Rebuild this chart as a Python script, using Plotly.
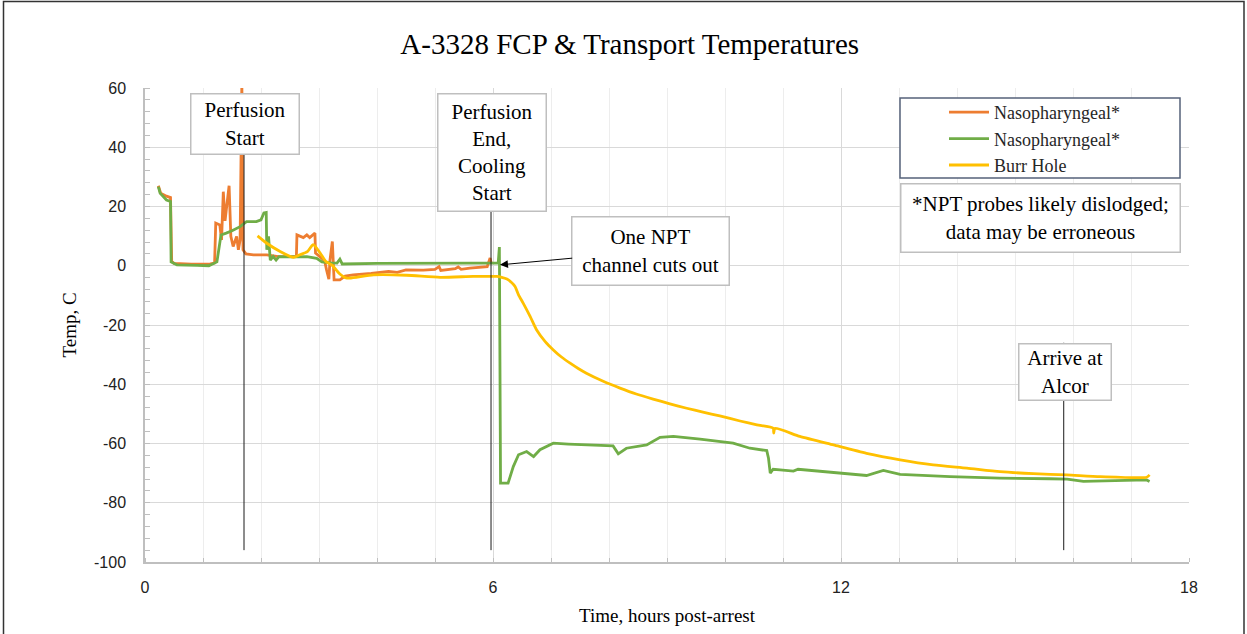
import plotly.graph_objects as go

# ---- data (hours post-arrest, temperature C) ----
npt1_t = [0.23, 0.27, 0.37, 0.44, 0.46, 0.50, 0.8, 1.1, 1.20, 1.22, 1.29, 1.32, 1.35, 1.38, 1.42, 1.45,
          1.48, 1.52, 1.58, 1.61, 1.64, 1.67, 1.69, 1.74, 1.87, 2.1, 2.3, 2.61, 2.62, 2.73, 2.79, 2.84,
          2.93, 2.94, 3.05, 3.10, 3.13, 3.17, 3.19, 3.23, 3.26, 3.36, 3.45, 3.59, 3.9, 4.2, 4.35, 4.5,
          4.8, 5.0, 5.07, 5.1, 5.35, 5.4, 5.45, 5.6, 5.9, 5.95, 5.97]
npt1_v = [27, 24.5, 23.5, 23, 1.5, 0.8, 0.5, 0.5, 1.0, 14.4, 13.8, 8.7, 25, 15.2, 22, 27,
          9.9, 6.5, 9.9, 5.4, 8.7, 62, 5.4, 4.0, 3.7, 3.7, 3.1, 3.1, 10.4, 9.5, 10.4, 9.5,
          11, 4.3, 2.5, 1.4, -1.4, -4.5, 2, 8.2, -4.8, -4.8, -3.5, -3.1, -2.6, -1.9, -2.2, -1.4,
          -1.5, -1.2, -0.3, -1.6, -1.0, -0.4, -1.2, -0.8, -0.3, 2.6, 0.8]

npt2_t = [0.23, 0.26, 0.37, 0.44, 0.45, 0.55, 0.9, 1.1, 1.24, 1.31, 1.40, 1.5, 1.64, 1.75, 1.92, 2.0,
          2.05, 2.09, 2.10, 2.13, 2.16, 2.21, 2.26, 2.31, 2.5, 2.79, 2.96, 3.05, 3.2, 3.31, 3.36, 3.40,
          4.0, 4.55, 5.2, 5.70, 6.09, 6.11, 6.13, 6.26, 6.35, 6.44, 6.58, 6.70, 6.81, 7.04, 7.3, 7.61,
          8.07, 8.16, 8.30, 8.65, 8.88, 9.11, 9.57, 10.14, 10.43, 10.72, 10.75, 10.78, 10.83, 10.95,
          11.18, 11.26, 11.87, 12.44, 12.73, 13.02, 13.88, 14.74, 15.6, 15.9, 16.18, 16.75, 17.27, 17.32]
npt2_v = [26.7, 24.5, 22.2, 21.7, 1.3, 0.3, 0.1, 0.0, 1.3, 10.4, 11, 11.8, 13.2, 14.9, 14.9, 15.5,
          17.8, 18, 5.4, 9.9, 1.9, 3.1, 1.9, 3.1, 3.0, 3.1, 2.5, 1.3, 1.0, 0.9, 2.2, 0.6,
          0.8, 0.9, 0.9, 0.9, 0.9, 6.3, -73.4, -73.4, -67.8, -63.8, -62.7, -64.4, -62.1, -59.9, -60.2, -60.5,
          -60.8, -63.5, -61.6, -60.5, -57.9, -57.6, -58.5, -59.9, -61.6, -62.4, -65, -70, -68.7, -68.9,
          -69.3, -68.7, -69.8, -70.8, -69.1, -70.4, -71.2, -71.7, -71.9, -72.0, -72.8, -72.5, -72.3, -72.8]

burr_t = [1.94, 2.10, 2.33, 2.56, 2.67, 2.80, 2.90, 3.02, 3.12, 3.22, 3.30, 3.36, 3.45, 3.53, 3.94, 4.51,
          5.09, 5.66, 6.06, 6.15, 6.24, 6.31, 6.38, 6.44, 6.52, 6.64, 6.75, 6.90,
          7.04, 7.18, 7.33, 7.47, 7.61, 7.90, 8.19, 8.47, 8.76, 9.05, 9.34, 9.62, 9.91, 10.26, 10.55, 10.83,
          10.84, 10.86, 11.29, 11.87, 12.44, 13.02, 13.59, 14.17, 14.74, 15.32, 15.89, 16.47, 17.27, 17.32]
burr_v = [10.1, 7.6, 4.8, 2.8, 3.7, 4.8, 7.1, 4.3, 1.4, 0.3, -1.5, -2.8, -4.0, -4.2, -3.1, -3.2,
          -3.9, -3.6, -3.6, -3.9, -4.5, -5.5, -7.0, -9.8, -12.6, -17.1, -21.6, -25.6,
          -28.4, -30.8, -32.9, -34.7, -36.3, -39.0, -41.3, -43.3, -45.0, -46.6, -48.1, -49.4, -50.7, -52.4, -53.7, -54.8,
          -56.5, -54.9, -57.6, -60.5, -63.3, -65.5, -67.2, -68.3, -69.5, -70.2, -70.6, -71.2, -71.4, -70.6]

series_names = ["Nasopharyngeal*", "Nasopharyngeal*", "Burr Hole"]
series_colors = ["#ED7D31", "#70AD47", "#FFC000"]

# event markers
event_labels = ["Perfusion<br>Start", "Perfusion<br>End,<br>Cooling<br>Start", "Arrive at<br>Alcor"]
event_times = [1.707, 5.966, 15.84]

x_ticks = [0, 6, 12, 18]
y_ticks = [60, 40, 20, 0, -20, -40, -60, -80, -100]

SERIF = "Liberation Serif"
SANS = "Liberation Sans"
ANN_SIZE = 21

fig = go.Figure()
for t, v, name, col, shape in [(npt1_t, npt1_v, series_names[0], series_colors[0], "linear"),
                               (npt2_t, npt2_v, series_names[1], series_colors[1], "linear"),
                               (burr_t, burr_v, series_names[2], series_colors[2], "spline")]:
    fig.add_trace(go.Scatter(x=t, y=v, mode="lines", name=name,
                             line=dict(color=col, width=2.8, shape=shape, smoothing=0.6)))

# event vertical lines
line_tops = [37.5, 18.5, -26]
for et, top in zip(event_times, line_tops):
    fig.add_shape(type="line", xref="x", yref="y", x0=et, x1=et, y0=top, y1=-96,
                  line=dict(color="#1a1a1a", width=1), layer="above")

box = dict(bgcolor="white", bordercolor="#BFBFBF", borderwidth=1.5, showarrow=False,
           font=dict(family=SERIF, size=ANN_SIZE, color="black"), xanchor="center", yanchor="top")

fig.add_annotation(text=event_labels[0], x=1.72, y=58.3, xref="x", yref="y",
                   width=105, height=57, **box)
fig.add_annotation(text=event_labels[1], x=5.99, y=58.3, xref="x", yref="y",
                   width=105, height=114, **box)
fig.add_annotation(text=event_labels[2], x=15.87, y=-26.1, xref="x", yref="y",
                   width=89, height=53, **box)

# arrow annotation
fig.add_annotation(text="One NPT<br>channel cuts out", x=6.12, y=0.3, xref="x", yref="y",
                   ax=151, ay=-14, axref="pixel", ayref="pixel",
                   showarrow=True, arrowhead=2, arrowsize=1.6, arrowwidth=1, arrowcolor="black",
                   bgcolor="white", bordercolor="#BFBFBF", borderwidth=1.5, width=154, height=65,
                   font=dict(family=SERIF, size=ANN_SIZE, color="black"))

# helpers for pixel -> paper conversion
L, R, T, B = 145, 1189, 88, 562
def px(x):
    return (x - L) / (R - L)
def py(y):
    return (B - y) / (B - T)

# note box
fig.add_annotation(text="*NPT probes likely dislodged;<br>data may be erroneous",
                   xref="paper", yref="paper", x=px(1040), y=py(183), xanchor="center", yanchor="top",
                   showarrow=False, bgcolor="white", bordercolor="#BFBFBF", borderwidth=1.5,
                   width=276, height=65, font=dict(family=SERIF, size=ANN_SIZE, color="black"))

# legend box
fig.add_shape(type="rect", xref="paper", yref="paper", x0=px(900), x1=px(1180), y0=py(178), y1=py(98),
              line=dict(color="#56627A", width=1.5), fillcolor="white", layer="above")

# outer chart border
fig.add_shape(type="rect", xref="paper", yref="paper", x0=px(3.5), x1=px(1244), y0=py(645), y1=py(1.5),
              line=dict(color="#333333", width=1.5), fillcolor="rgba(0,0,0,0)", layer="above")

fig.update_layout(
    width=1247, height=634,
    margin=dict(l=L, r=1247 - R, t=T, b=634 - B, autoexpand=False),
    font=dict(family=SERIF, color="black"),
    paper_bgcolor="white", plot_bgcolor="white",
    title=dict(text="A-3328 FCP & Transport Temperatures", x=0.505, xanchor="center",
               y=1 - 44 / 634, yanchor="middle",
               font=dict(family=SERIF, size=29, color="black")),
    showlegend=True,
    legend=dict(x=px(944), y=py(94), xanchor="left", yanchor="top", bgcolor="rgba(0,0,0,0)",
                borderwidth=0, font=dict(family=SERIF, size=18, color="#262626"),
                itemwidth=40, tracegroupgap=0),
    xaxis=dict(range=[0, 18], tickvals=x_ticks, ticktext=[str(v) for v in x_ticks],
               automargin=False,
               showgrid=True, gridcolor="#D9D9D9", gridwidth=1,
               minor=dict(dtick=1, showgrid=True, gridcolor="#EDEDED", gridwidth=1,
                          ticks="inside", ticklen=4, tickcolor="#BFBFBF"),
               showline=True, linecolor="#BFBFBF", linewidth=1.5, zeroline=False,
               ticks="", tickfont=dict(family=SANS, size=16, color="#222222"), ticklabelstandoff=10,
               title=dict(text="Time, hours post-arrest", font=dict(family=SERIF, size=19, color="black"),
                          standoff=14)),
    yaxis=dict(range=[-100, 60], tickvals=y_ticks, ticktext=[str(v) for v in y_ticks],
               automargin=False,
               showgrid=True, gridcolor="#D9D9D9", gridwidth=1,
               minor=dict(dtick=4, showgrid=False, ticks="inside", ticklen=5, tickcolor="#BFBFBF"),
               showline=True, linecolor="#BFBFBF", linewidth=1.5, zeroline=False,
               ticks="", tickfont=dict(family=SANS, size=16, color="#222222"), ticklabelstandoff=14,
               title=dict(text="Temp, C", font=dict(family=SERIF, size=19, color="black"), standoff=12)),
)

fig.write_html("out.html", post_script="document.body.style.margin='0';",
               config={"displayModeBar": False})
